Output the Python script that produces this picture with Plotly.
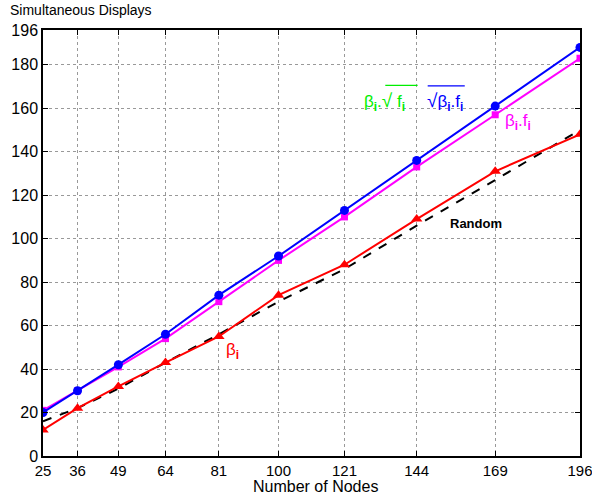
import plotly.graph_objects as go

nodes = [25, 36, 49, 64, 81, 100, 121, 144, 169, 196]
sqrt_bf = [20, 30, 42, 56, 74, 92, 113, 136, 161, 188]
bf = [21, 30, 41, 54, 71, 90, 110, 133, 157, 183]
beta = [12, 22, 32, 43, 55, 74, 88, 109, 131, 148]
random_ = [16, 22, 31, 43, 56, 71, 86, 106, 127, 150]
y_ticks = [0, 20, 40, 60, 80, 100, 120, 140, 160, 180, 196]

fig = go.Figure()
fig.add_trace(go.Scatter(x=nodes, y=random_, mode="lines",
                         line=dict(color="black", width=2, dash="dash")))
fig.add_trace(go.Scatter(x=nodes, y=beta, mode="lines+markers",
                         line=dict(color="#ff0000", width=2),
                         marker=dict(symbol="triangle-up", size=10, color="#ff0000")))
fig.add_trace(go.Scatter(x=nodes, y=bf, mode="lines+markers",
                         line=dict(color="#ff00ff", width=2),
                         marker=dict(symbol="square", size=7, color="#ff00ff")))
fig.add_trace(go.Scatter(x=nodes, y=sqrt_bf, mode="lines+markers",
                         line=dict(color="#0000ff", width=2),
                         marker=dict(symbol="circle", size=9, color="#0000ff")))

axis_common = dict(showline=True, linecolor="black", linewidth=1.5, mirror="ticks",
                   ticks="inside", ticklen=5, tickcolor="black",
                   showgrid=True, gridcolor="#999", griddash="dot", gridwidth=1,
                   zeroline=False, automargin=False, ticklabeloverflow="allow")

fig.update_xaxes(range=[25, 196], tickvals=nodes, tickfont=dict(size=15, color="black"),
                 **axis_common)
fig.update_yaxes(range=[0, 196], tickvals=y_ticks, tickfont=dict(size=16, color="black"),
                 **axis_common)

font = "Liberation Sans, Arial, sans-serif"
green = "#00ee00"
fig.update_layout(
    width=592, height=495,
    margin=dict(l=43, r=12, t=30, b=39),
    plot_bgcolor="white", paper_bgcolor="white",
    showlegend=False,
    font=dict(family=font, color="black"),
    annotations=[
        dict(x=0, y=1, xref="paper", yref="paper", xanchor="left", yanchor="bottom",
             xshift=-35, yshift=10, text="Simultaneous Displays", showarrow=False,
             font=dict(size=14, color="black")),
        dict(x=0.5, y=0, xref="paper", yref="paper", xanchor="center", yanchor="top",
             xshift=4, yshift=-20, text="Number of Nodes", showarrow=False,
             font=dict(size=16, color="black")),
        dict(x=126.6, y=163, xref="x", yref="y", xanchor="left", yanchor="middle",
             text="β<sub><b>i</b></sub>.<span style='font-size:19px'>√</span> f<sub><b>i</b></sub>",
             showarrow=False, font=dict(size=17, color=green)),
        dict(x=146.6, y=163, xref="x", yref="y", xanchor="left", yanchor="middle",
             text="<span style='font-size:19px'>√</span>β<sub><b>i</b></sub>.f<sub><b>i</b></sub>",
             showarrow=False, font=dict(size=17, color="#0000ff")),
        dict(x=171.5, y=153.5, xref="x", yref="y", xanchor="left", yanchor="middle",
             text="β<sub><b>i</b></sub>.f<sub><b>i</b></sub>", showarrow=False,
             font=dict(size=17, color="#ff00ff")),
        dict(x=163, y=106.8, xref="x", yref="y", xanchor="center", yanchor="middle",
             text="<b>Random</b>", showarrow=False,
             font=dict(size=13, color="black")),
        dict(x=85.2, y=48.5, xref="x", yref="y", xanchor="center", yanchor="middle",
             text="β<sub><b>i</b></sub>", showarrow=False,
             font=dict(size=17, color="#ff0000")),
    ],
    shapes=[
        dict(type="line", xref="x", yref="y", x0=134.0, x1=144.3, y0=170.5, y1=170.5,
             line=dict(color=green, width=1.2)),
        dict(type="line", xref="x", yref="y", x0=147.5, x1=159.3, y0=170.3, y1=170.3,
             line=dict(color="#0000ff", width=1.2)),
    ],
)

fig.write_html("out.html")
